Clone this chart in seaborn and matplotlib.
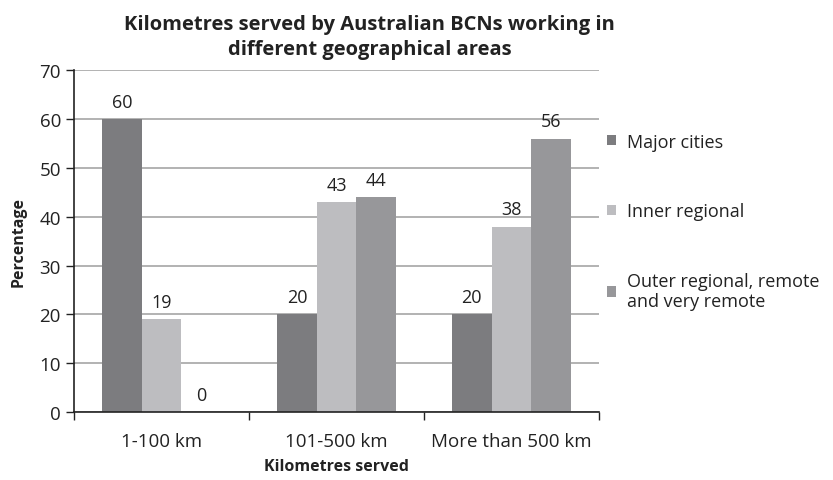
import pandas as pd
import seaborn as sns
import matplotlib.pyplot as plt
from matplotlib.ticker import FixedLocator

# Dados do gráfico
distancias = ['1-100 km', '101-500 km', 'More than 500 km']
areas = ['Major cities', 'Inner regional', 'Outer regional, remote\nand very remote']
major_cities = [60, 20, 20]
inner_regional = [19, 43, 38]
outer_regional = [0, 44, 56]
cores = ['#7b7b7f', '#bdbdc0', '#96969a']

df = pd.DataFrame({
    'Distancia': distancias * 3,
    'Area': [areas[0]] * 3 + [areas[1]] * 3 + [areas[2]] * 3,
    'Percentagem': major_cities + inner_regional + outer_regional,
})

sns.set_style('white')
plt.rcParams['font.family'] = ['Open Sans', 'DejaVu Sans']

fig = plt.figure(figsize=(8.33, 4.81), dpi=100)
ax = fig.add_axes([0.089, 0.141, 0.63, 0.711])

sns.barplot(data=df, x='Distancia', y='Percentagem', hue='Area',
            palette=cores, width=0.68, linewidth=0, ax=ax)

# Rótulos com valores
for cont in ax.containers:
    ax.bar_label(cont, fmt='%d', padding=6, fontsize=13, color='#222222')

ax.set_ylim(0, 70)
ax.set_yticks(range(0, 71, 10))
ax.set_xlim(-0.5, 2.5)
ax.yaxis.grid(True, color='#a6a6a6', linewidth=1.2)
ax.set_axisbelow(True)

# Marcas entre os grupos
ax.xaxis.set_minor_locator(FixedLocator([-0.5, 0.5, 1.5, 2.5]))
ax.tick_params(axis='x', which='major', length=0, labelsize=13.5, pad=14, colors='#222222')
ax.tick_params(axis='x', which='minor', length=6, width=1, color='#222222', direction='out', bottom=True)
ax.tick_params(axis='y', length=6, width=1, color='#222222', labelsize=13.5, colors='#222222', left=True)

for lado in ['top', 'right']:
    ax.spines[lado].set_visible(False)
for lado in ['left', 'bottom']:
    ax.spines[lado].set_color('#222222')
    ax.spines[lado].set_linewidth(1.2)

ax.set_xlabel('Kilometres served', fontsize=11.5, fontweight='bold', labelpad=6, color='#222222')
ax.set_ylabel('Percentage', fontsize=11.5, fontweight='bold', labelpad=9, color='#222222')

fig.text(0.444, 0.922, 'Kilometres served by Australian BCNs working in\ndifferent geographical areas',
         ha='center', va='center', fontsize=14.5, fontweight='bold', color='#222222', linespacing=1.3)

ax.legend(loc='upper left', bbox_to_anchor=(0.985, 0.865), frameon=False,
          fontsize=13, handlelength=0.5, handleheight=0.5, handletextpad=0.6,
          labelspacing=2.85, labelcolor='#222222')

fig.savefig('out.png', dpi=100)
